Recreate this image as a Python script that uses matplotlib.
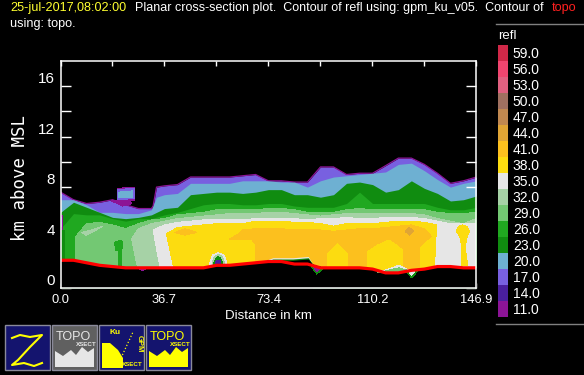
import matplotlib
matplotlib.use('Agg')
import matplotlib.pyplot as plt

plt.rcParams['font.family'] = ['Liberation Sans', 'DejaVu Sans']

# distance stations along the section, km
dist = [0.0, 4.6, 9.2, 13.8, 18.4, 23.0, 27.5, 32.1, 36.7, 41.3, 45.9, 50.5, 55.1, 59.7, 64.3, 68.9, 73.4,
        78.0, 82.6, 87.2, 91.8, 96.4, 101.0, 105.6, 110.2, 114.8, 119.3, 123.9, 128.5, 133.1, 137.7, 142.3, 146.9]

# top of each reflectivity band at those stations, km
x17 = dist[:8] + [32.7, 33.9] + dist[8:]
top17 = [7.6, 7.0, 6.7, 6.8, 7.0, 6.6, 6.3, 6.3, 6.5, 8.0, 8.1, 8.2, 8.8, 8.8, 8.8, 8.8, 8.9, 9.0, 8.5, 8.5, 8.4, 8.4,
         9.6, 9.6, 9.0, 9.1, 9.1, 9.7, 10.3, 10.3, 9.8, 9.1, 8.3, 8.5, 8.8]
x20 = dist[:8] + [33.9] + dist[8:]
top20 = [7.0, 7.0, 6.6, 6.0, 6.0, 5.9, 5.9, 6.2, 7.2, 7.4, 7.5, 8.3, 8.3, 8.3, 8.3, 8.5, 8.5, 8.5, 8.4, 8.4, 8.0,
         8.5, 8.8, 8.9, 9.0, 9.1, 9.2, 9.8, 9.9, 9.3, 8.6, 8.0, 8.3, 8.5]
top23 = [6.0, 6.8, 6.4, 6.0, 5.6, 5.5, 5.6, 5.8, 6.3, 6.4, 7.4, 7.5, 7.6, 7.6, 7.5, 7.6, 7.8, 7.8, 7.4, 7.4,
         7.2, 7.4, 8.3, 8.4, 8.2, 7.6, 7.8, 8.5, 7.9, 7.5, 6.9, 7.0, 7.3]
top26 = [4.7, 5.9, 5.8, 5.8, 5.5, 5.3, 5.5, 5.5, 5.8, 6.0, 6.3, 6.6, 6.7, 6.7, 6.6, 6.6, 6.7, 6.7, 6.5, 6.4,
         6.4, 6.4, 6.7, 7.6, 6.7, 6.7, 6.7, 6.7, 6.7, 6.4, 6.2, 6.2, 6.4]
x29 = [5.1, 5.1] + dist[2:]
top29 = [0.0, 4.0, 5.1, 5.2, 5.0, 4.7, 5.1, 5.4, 5.5, 5.8, 5.9, 6.0, 6.2, 6.2, 6.2, 6.2, 6.3, 6.3, 6.2, 6.0,
         6.0, 6.0, 6.2, 6.3, 6.2, 6.2, 6.2, 6.2, 6.2, 6.0, 5.9, 5.9, 6.0]
x32 = [28.7, 25.1] + dist[6:]
top32 = [0.0, 3.9, 4.7, 5.1, 5.3, 5.5, 5.6, 5.7, 5.8, 5.9, 5.9, 5.9, 6.0, 6.0, 5.9, 5.8, 5.7, 5.8, 5.9, 5.9,
         5.9, 5.9, 5.9, 5.9, 5.8, 5.5, 5.3, 5.1, 5.5]
x35 = [36.5, 32.7] + dist[8:]
top35 = [0.0, 4.6, 5.0, 5.2, 5.3, 5.4, 5.4, 5.4, 5.4, 5.5, 5.5, 5.5, 5.5, 5.4, 5.5, 5.5, 5.6, 5.5, 5.5, 5.6,
         5.6, 5.6, 5.5, 5.3, 5.1, 5.1, 5.1]
x38 = [41.5, 37.4] + dist[9:29] + [132.8, 131.7]
top38 = [0.0, 4.3, 4.8, 4.9, 5.0, 5.1, 5.1, 5.1, 5.3, 5.3, 5.3, 5.2, 5.2, 5.1, 4.9, 5.1, 5.1, 5.1, 5.2, 5.3,
         5.3, 5.2, 5.0, 0.0]
x41 = [59.8, 59.8, 63.0] + dist[14:29] + [130.9, 126.8, 126.8]
top41 = [0.0, 3.9, 4.3, 4.6, 4.7, 4.7, 4.7, 4.6, 4.6, 4.6, 4.5, 4.6, 4.7, 4.7, 4.8, 4.9, 5.0, 4.7, 4.1, 3.3, 0.0]
ground = [2.2, 2.2, 2.0, 1.8, 1.7, 1.6, 1.6, 1.6, 1.6, 1.6, 1.6, 1.6, 1.8, 1.8, 1.9, 2.0, 2.1, 2.1, 1.9, 1.9,
          1.6, 1.6, 1.6, 1.6, 1.5, 1.2, 1.2, 1.4, 1.5, 1.7, 1.7, 1.6, 1.6]

# smaller closed features: (level, distances, heights)
patches = [
    (11, [0.0, 1.0, 1.0, 0.0], [5.8, 5.8, 4.6, 4.6]),
    (17, [0.0, 0.6, 0.6, 0.0], [5.6, 5.6, 4.8, 4.8]),
    (23, [0.0, 1.6, 1.6, 0.0], [4.6, 4.6, 0.0, 0.0]),
    (26, [1.6, 5.1, 5.1, 1.6], [4.4, 4.4, 0.0, 0.0]),
    (11, [18.1, 21.0, 24.0, 25.2, 22.0], [6.9, 7.0, 7.0, 6.7, 6.5]),
    (11, [20.0, 26.3, 26.3, 24.0, 20.0], [7.9, 8.0, 6.9, 6.9, 7.0]),
    (17, [20.2, 26.0, 26.0, 20.2], [7.8, 7.9, 7.1, 7.0]),
    (20, [20.6, 25.5, 25.5, 20.6], [7.6, 7.7, 7.2, 7.2]),
    (32, [7.5, 11.0, 15.0, 11.0, 9.0], [4.4, 4.6, 4.9, 4.4, 4.2]),
    (26, [19.0, 21.5, 22.0, 21.6, 21.6, 20.4, 20.4, 19.6], [3.6, 3.8, 3.5, 3.0, 1.7, 1.7, 3.0, 3.0]),
    (41, [40.4, 44.0, 48.2, 44.0], [4.4, 4.7, 4.4, 4.2]),
    (38, [59.8, 67.0, 68.6, 68.6, 59.8], [3.8, 3.8, 3.4, 0.0, 0.0]),
    (38, [94.4, 97.9, 101.2, 101.2, 94.4], [2.7, 3.5, 2.7, 0.0, 0.0]),
    (38, [108.5, 112.0, 116.0, 118.0, 120.8, 120.8, 108.5], [2.9, 3.4, 3.8, 3.5, 3.0, 0.0, 0.0]),
    (44, [121.7, 123.2, 124.7, 123.2], [4.5, 4.8, 4.5, 4.2]),
    (38, [139.7, 140.6, 142.0, 143.4, 144.4, 143.6, 142.9, 143.8, 141.5, 141.8, 141.0],
     [4.5, 4.9, 5.0, 4.9, 4.5, 4.1, 3.2, 1.8, 1.8, 3.2, 4.1]),
    (35, [52.7, 53.6, 55.7, 57.8, 58.7, 58.7, 52.7], [2.0, 2.6, 2.8, 2.6, 2.0, 1.7, 1.7]),
    (32, [53.5, 54.3, 55.7, 57.1, 57.9, 57.9, 53.5], [2.0, 2.5, 2.65, 2.5, 2.0, 1.7, 1.7]),
    (23, [54.2, 54.9, 55.7, 56.5, 57.2, 57.2, 54.2], [2.0, 2.35, 2.5, 2.35, 2.0, 1.7, 1.7]),
    (14, [54.8, 55.1, 56.3, 56.6, 56.6, 54.8], [2.0, 2.2, 2.2, 2.0, 1.7, 1.7]),
]
# holes in the echo just above the surface
hole_x = [70.0, 75.0, 82.0, 87.5, 89.0]
hole_rim = [2.0, 2.4, 2.4, 2.5, 1.9]
hole_in = [1.9, 2.3, 2.3, 2.4, 1.9]
hole_top = [1.9, 2.2, 2.2, 2.3, 1.9]
# echo that hangs under the surface line
under = [(11, [27.0, 29.0, 31.0], [1.6, 1.4, 1.6]),
         (23, [88.0, 90.5, 93.0], [1.9, 1.1, 1.6]),
         (11, [88.8, 90.5, 92.2], [1.8, 1.3, 1.6]),
         (35, [112.0, 119.5, 124.0], [1.2, 1.8, 1.3]),
         (29, [112.0, 119.5, 124.0], [1.2, 1.6, 1.3]),
         (23, [122.0, 124.0, 126.0], [1.3, 0.8, 1.3]),
         (35, [123.0, 124.0, 125.0], [1.3, 1.0, 1.3])]

levels = [59, 56, 53, 50, 47, 44, 41, 38, 35, 32, 29, 26, 23, 20, 17, 14, 11]
colors = ['#d02848', '#f0456f', '#e06080', '#a07060', '#c08850', '#e0a535', '#fcc01e', '#fcdc10', '#e6e6e6',
          '#a6d2a6', '#73c873', '#20a820', '#108c10', '#6eb0d2', '#7860e0', '#4a1f9e', '#8c1496']
col = dict(zip(levels, colors))

x_ticks = [18.36 * i for i in range(9)]
x_labels = ['0.0', '', '36.7', '', '73.4', '', '110.2', '', '146.9']
y_major = [0, 4, 8, 12, 16]
y_minor = [2, 6, 10, 14]

W, H = 584, 375
fig = plt.figure(figsize=(W / 100, H / 100), dpi=100, facecolor='black')
ax = fig.add_axes([60.5 / W, (H - 288) / H, 416 / W, 227 / H], facecolor='black')


def band(x, y, level, z):
    ax.fill(x, y, color=col[level], lw=0, antialiased=False, zorder=z)


ax.fill_between(x17, 0, top17, color=col[17], lw=0, antialiased=False, zorder=1)
ax.plot(x17, top17, color=col[11], lw=0.9, zorder=1)
ax.fill_between(x20, 0, top20, color=col[20], lw=0, antialiased=False, zorder=2)
ax.fill_between(dist, 0, top23, color=col[23], lw=0, antialiased=False, zorder=3)
ax.fill_between(dist, 0, top26, color=col[26], lw=0, antialiased=False, zorder=4)
band(x29 + [146.9], top29 + [0.0], 29, 5)
band(x32 + [146.9], top32 + [0.0], 32, 6)
band(x35 + [146.9], top35 + [0.0], 35, 7)
band(x38, top38, 38, 8)
band(x41, top41, 41, 9)
for i, (lev, px, py) in enumerate(patches):
    band(px, py, lev, 10 + i * 0.01)
ax.fill_between(hole_x, 0, hole_rim, color=col[35], lw=0, antialiased=False, zorder=11)
ax.fill_between(hole_x, 0, hole_in, color=col[23], lw=0, antialiased=False, zorder=11.1)
ax.fill_between(hole_x, 0, hole_top, color='black', lw=0, antialiased=False, zorder=11.2)
ax.fill_between(dist, 0, ground, color='black', lw=0, antialiased=False, zorder=12)
for i, (lev, px, py) in enumerate(under):
    band(px, py, lev, 13 + i * 0.01)
ax.plot(dist, ground, color='#ff0000', lw=2.3, zorder=14, solid_capstyle='butt')

ax.set_xlim(0, 146.9)
ax.set_ylim(0, 18)
ax.set_xticks(x_ticks)
ax.set_xticklabels(x_labels, fontsize=9.3)
ax.set_yticks(y_major)
ax.set_yticklabels([str(v) for v in y_major], fontsize=11, va='bottom')
ax.set_yticks(y_minor, minor=True)
ax.tick_params(axis='x', direction='in', top=True, length=3.6, width=1, color='white', labelcolor='white', pad=4)
ax.tick_params(axis='y', which='both', direction='in', right=True, length=7.5, width=1, color='white', labelcolor='white', pad=4)
for s in ax.spines.values():
    s.set_color('white')
    s.set_linewidth(1.1)
    s.set_zorder(20)
for t in ax.get_xticklines() + ax.get_yticklines() + ax.yaxis.get_minorticklines():
    t.set_zorder(20)
ax.set_axisbelow(False)
ax.set_xlabel('Distance in km', color='white', fontsize=9.5, labelpad=3)

# colour key
cax = fig.add_axes([498 / W, (H - 317) / H, 10 / W, 272 / H], facecolor='black')
cax.barh(range(len(levels)), [1] * len(levels), height=1.0, color=colors[::-1], lw=0)
cax.set_xlim(0, 1)
cax.set_ylim(-0.5, len(levels) - 0.5)
cax.set_xticks([])
cax.set_yticks(range(len(levels)))
cax.set_yticklabels(['%.1f' % v for v in levels[::-1]], fontsize=10, color='white')
cax.yaxis.tick_right()
cax.tick_params(axis='y', length=0, pad=3.5)
for s in cax.spines.values():
    s.set_visible(False)

# everything laid out in screen pixels
pix = fig.add_axes([0, 0, 1, 1], facecolor='none', zorder=30)
pix.set_xlim(0, W)
pix.set_ylim(H, 0)
pix.axis('off')
pix.text(10, 8, '25-jul-2017,08:02:00', color='#ffff30', fontsize=9.1, va='center')
pix.text(135, 8, 'Planar cross-section plot.  Contour of refl using: gpm_ku_v05.  Contour of', color='white', fontsize=9.0, va='center')
pix.text(552, 8, 'topo', color='#ff2020', fontsize=9.1, va='center')
pix.text(10, 24, 'using: topo.', color='white', fontsize=9.1, va='center')
pix.text(20, 178, 'km above MSL', color='white', fontsize=12.5, family='DejaVu Sans Mono', rotation=90, ha='center', va='center')
pix.text(498, 36, 'refl', color='white', fontsize=9.5, va='center')
pix.plot([496, 584], [23.5, 23.5], color='#808080', lw=1)
pix.plot([496, 584], [324, 324], color='#808080', lw=1)

# toolbar buttons
for x0, bg in [(5, '#14146e'), (52, '#606060'), (99, '#14146e'), (146, '#14146e')]:
    pix.add_patch(plt.Rectangle((x0, 325), 45, 45, facecolor=bg, edgecolor='#8a8a9a', lw=1))
pix.plot([12, 20, 30, 42, 30, 18, 12, 24, 34, 42], [338, 335, 337, 335, 347, 360, 365, 363, 366, 363], color='#ffff00', lw=1.5)
pix.fill([55, 55, 63, 71, 76, 82, 88, 94, 94], [367, 351, 356, 350, 355, 347, 352, 348, 367], color='#e6e6e6', lw=0)
pix.text(73, 337, 'TOPO', color='#e6e6e6', fontsize=9, ha='center', va='center')
pix.text(86, 344, 'XSECT', color='#e6e6e6', fontsize=4.5, ha='center', va='center', weight='bold')
pix.fill([102, 110, 118, 123, 123, 102], [343, 343, 350, 358, 368, 368], color='#ffff00', lw=0)
pix.text(115, 333, 'Ku', color='#ffff00', fontsize=6, ha='center', va='center', weight='bold')
pix.text(132, 367, 'XSECT', color='#ffff00', fontsize=4.5, ha='center', va='bottom', weight='bold')
pix.text(139, 344, 'GPM', color='#ffff00', fontsize=5.5, rotation=-90, ha='center', va='center', weight='bold')
pix.plot([121, 133], [358, 332], color='#ffff00', lw=0.9, ls=':')
pix.fill([149, 149, 157, 165, 170, 176, 182, 188, 188], [367, 351, 356, 350, 355, 347, 352, 348, 367], color='#ffff00', lw=0)
pix.text(167, 337, 'TOPO', color='#ffff00', fontsize=9, ha='center', va='center')
pix.text(180, 344, 'XSECT', color='#ffff00', fontsize=4.5, ha='center', va='center', weight='bold')

fig.savefig('out.png', dpi=100, facecolor='black')
